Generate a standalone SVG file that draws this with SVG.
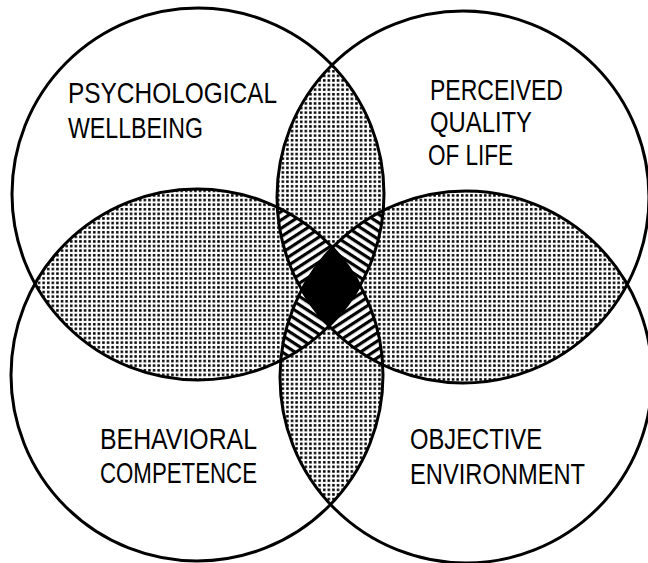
<svg xmlns="http://www.w3.org/2000/svg" width="648" height="563" viewBox="0 0 648 563">
<defs>
<style>
.c{fill:none;stroke:#000;stroke-width:3}
.lbl{font-family:"Liberation Sans Narrow","Liberation Sans",Arial,sans-serif;font-size:30px;fill:#000}
</style>
<pattern id="dots" width="4.6" height="4.6" patternUnits="userSpaceOnUse"><rect width="4.6" height="4.6" fill="#fff"/><rect x="1" y="1" width="2.5" height="2.5" fill="#000"/></pattern>
<pattern id="hA" width="7" height="7" patternUnits="userSpaceOnUse" patternTransform="rotate(-33)"><rect width="7" height="7" fill="#fff"/><rect width="7" height="3.2" fill="#000"/></pattern>
<pattern id="hB" width="7" height="7" patternUnits="userSpaceOnUse" patternTransform="rotate(33)"><rect width="7" height="7" fill="#fff"/><rect width="7" height="3.2" fill="#000"/></pattern>
<clipPath id="kTL"><circle cx="198" cy="194" r="186"/></clipPath>
<clipPath id="kTR"><circle cx="463" cy="197" r="186"/></clipPath>
<clipPath id="kBL"><circle cx="197" cy="375" r="186"/></clipPath>
<clipPath id="kBR"><circle cx="466" cy="377" r="186"/></clipPath>
</defs>
<rect width="648" height="563" fill="#fff"/>
<g id="overlaps">
<g clip-path="url(#kTL)"><circle cx="463" cy="197" r="186" fill="url(#dots)"/><circle cx="197" cy="375" r="186" fill="url(#dots)"/><circle cx="466" cy="377" r="186" fill="url(#dots)"/></g>
<g clip-path="url(#kTR)"><circle cx="466" cy="377" r="186" fill="url(#dots)"/><circle cx="197" cy="375" r="186" fill="url(#dots)"/></g>
<g clip-path="url(#kBL)"><circle cx="466" cy="377" r="186" fill="url(#dots)"/></g>
<g clip-path="url(#kTL)"><g clip-path="url(#kTR)"><circle cx="197" cy="375" r="186" fill="url(#hA)"/><circle cx="466" cy="377" r="186" fill="url(#hB)"/></g></g>
<g clip-path="url(#kBL)"><g clip-path="url(#kBR)"><circle cx="198" cy="194" r="186" fill="url(#hB)"/><circle cx="463" cy="197" r="186" fill="url(#hA)"/></g></g>
<g clip-path="url(#kTL)"><g clip-path="url(#kTR)"><g clip-path="url(#kBL)"><circle cx="466" cy="377" r="186" fill="#000"/></g></g></g>
</g>
<g id="psychological-wellbeing">
<circle class="c" cx="198" cy="194" r="186"/>
<text class="lbl" x="68" y="103" textLength="209" lengthAdjust="spacingAndGlyphs">PSYCHOLOGICAL</text>
<text class="lbl" x="68" y="138" textLength="135" lengthAdjust="spacingAndGlyphs">WELLBEING</text>
</g>
<g id="perceived-quality-of-life">
<circle class="c" cx="463" cy="197" r="186"/>
<text class="lbl" x="430" y="100" textLength="133" lengthAdjust="spacingAndGlyphs">PERCEIVED</text>
<text class="lbl" x="430" y="132" textLength="102" lengthAdjust="spacingAndGlyphs">QUALITY</text>
<text class="lbl" x="428" y="165" textLength="85" lengthAdjust="spacingAndGlyphs">OF LIFE</text>
</g>
<g id="behavioral-competence">
<circle class="c" cx="197" cy="375" r="186"/>
<text class="lbl" x="100" y="449" textLength="157" lengthAdjust="spacingAndGlyphs">BEHAVIORAL</text>
<text class="lbl" x="100" y="483" textLength="157" lengthAdjust="spacingAndGlyphs">COMPETENCE</text>
</g>
<g id="objective-environment">
<circle class="c" cx="466" cy="377" r="186"/>
<text class="lbl" x="410" y="449" textLength="132" lengthAdjust="spacingAndGlyphs">OBJECTIVE</text>
<text class="lbl" x="410" y="484" textLength="175" lengthAdjust="spacingAndGlyphs">ENVIRONMENT</text>
</g>
</svg>
